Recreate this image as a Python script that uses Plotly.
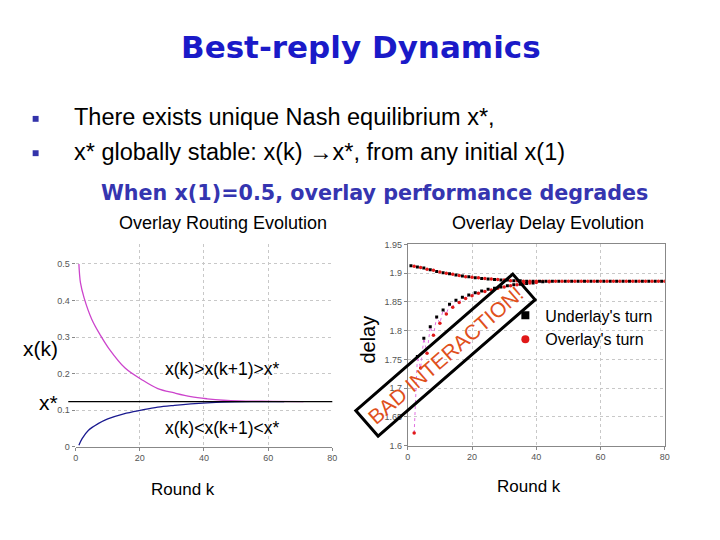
import plotly.graph_objects as go

# ---------------- data ----------------
# Left: Overlay routing evolution x(k)
k_high = [1, 1.5, 2.6, 5, 7.7, 10.3, 15.4, 20.5, 25.6, 30.8, 35.9, 41, 46, 51, 61.5, 71]
x_high = [0.5, 0.448, 0.408, 0.349, 0.305, 0.269, 0.215, 0.184, 0.159, 0.147, 0.137, 0.131, 0.127, 0.125, 0.124, 0.123]
k_low = [1, 2, 4, 7, 10, 15, 20.5, 25.6, 30.8, 35.9, 41, 46, 55, 65]
x_low = [0.004, 0.022, 0.045, 0.063, 0.076, 0.090, 0.100, 0.108, 0.113, 0.117, 0.120, 0.122, 0.123, 0.123]
x_star = 0.123

# Right: Overlay delay evolution (upper branch)
up_under_k = [1, 3, 5, 7, 9, 11, 13, 15, 17, 19, 21, 23, 25, 27, 29, 31, 33, 35, 37, 39,
              41, 43, 45, 47, 49, 51, 53, 55, 57, 59, 61, 63, 65, 67, 69, 71, 73, 75, 77, 79]
up_under = [1.913, 1.911, 1.909, 1.906, 1.903, 1.901, 1.899, 1.897, 1.895, 1.894, 1.892, 1.891,
            1.890, 1.889, 1.888, 1.888, 1.887, 1.887, 1.886, 1.886, 1.886, 1.886, 1.886, 1.886,
            1.886, 1.886, 1.886, 1.886, 1.886, 1.886, 1.886, 1.886, 1.886, 1.886, 1.886, 1.886,
            1.886, 1.886, 1.886, 1.886]
up_over_k = [2, 4, 6, 8, 10, 12, 14, 16, 18, 20, 22, 24, 26, 28, 30, 32, 34, 36, 38, 40,
             42, 44, 46, 48, 50, 52, 54, 56, 58, 60, 62, 64, 66, 68, 70, 72, 74, 76, 78, 80]
up_over = [1.912, 1.910, 1.907, 1.905, 1.902, 1.900, 1.898, 1.896, 1.894, 1.893, 1.892, 1.891,
           1.890, 1.889, 1.888, 1.887, 1.887, 1.886, 1.886, 1.886, 1.886, 1.886, 1.886, 1.886,
           1.886, 1.886, 1.886, 1.886, 1.886, 1.886, 1.886, 1.886, 1.886, 1.886, 1.886, 1.886,
           1.886, 1.886, 1.886, 1.886]
# lower branch (bad interaction, zig-zag between turns)
low_k = [2, 3, 4, 5, 6, 7, 8, 9, 10, 11, 12, 13, 14, 15, 16, 17, 18, 19, 20, 21, 22, 23, 24,
         25, 26, 27, 28, 29, 30, 31, 32, 33, 34, 35, 36, 37, 38, 39, 40, 42, 44]
low_d = [1.622, 1.755, 1.735, 1.787, 1.761, 1.807, 1.792, 1.824, 1.813, 1.836, 1.829, 1.846,
         1.841, 1.853, 1.849, 1.858, 1.856, 1.862, 1.861, 1.866, 1.865, 1.869, 1.868, 1.872,
         1.871, 1.874, 1.874, 1.876, 1.876, 1.878, 1.878, 1.880, 1.880, 1.881, 1.882, 1.882,
         1.883, 1.883, 1.884, 1.885, 1.885]
low_under_k = low_k[1::2]
low_under = low_d[1::2]
low_over_k = low_k[0::2]
low_over = low_d[0::2]

left_xticks = [0, 20, 40, 60, 80]
left_yticks = [0, 0.1, 0.2, 0.3, 0.4, 0.5]
left_yticktext = ["0", "0.1", "0.2", "0.3", "0.4", "0.5"]
right_yticks = [1.6, 1.65, 1.7, 1.75, 1.8, 1.85, 1.9, 1.95]
right_yticktext = ["1.6", "1.65", "1.7", "1.75", "1.8", "1.85", "1.9", "1.95"]

W, H = 720, 540
def px(x):
    return x / W
def py(y):
    return 1 - y / H

fig = go.Figure()

# left plot traces
fig.add_trace(go.Scatter(x=k_high, y=x_high, mode="lines", line=dict(color="#cc44cc", width=1.3, shape="spline"),
                         xaxis="x", yaxis="y", showlegend=False))
fig.add_trace(go.Scatter(x=k_low, y=x_low, mode="lines", line=dict(color="#1a1a90", width=1.3, shape="spline"),
                         xaxis="x", yaxis="y", showlegend=False))

# right plot traces
fig.add_trace(go.Scatter(x=low_k, y=low_d, mode="lines", line=dict(color="#e070e0", width=1, dash="dot"),
                         xaxis="x2", yaxis="y2", showlegend=False))
fig.add_trace(go.Scatter(x=up_under_k, y=up_under, mode="markers", marker=dict(color="black", symbol="square", size=3),
                         xaxis="x2", yaxis="y2", showlegend=False))
fig.add_trace(go.Scatter(x=up_over_k, y=up_over, mode="markers", marker=dict(color="#e01818", symbol="circle", size=3.5),
                         xaxis="x2", yaxis="y2", showlegend=False))
fig.add_trace(go.Scatter(x=low_under_k, y=low_under, mode="markers", marker=dict(color="black", symbol="square", size=3),
                         xaxis="x2", yaxis="y2", showlegend=False))
fig.add_trace(go.Scatter(x=low_over_k, y=low_over, mode="markers", marker=dict(color="#e01818", symbol="circle", size=3.5),
                         xaxis="x2", yaxis="y2", showlegend=False))
# legend entries
fig.add_trace(go.Scatter(x=[None], y=[None], mode="markers", name="Underlay's turn",
                         marker=dict(color="black", symbol="square", size=8), xaxis="x2", yaxis="y2"))
fig.add_trace(go.Scatter(x=[None], y=[None], mode="markers", name="Overlay's turn",
                         marker=dict(color="#e01818", symbol="circle", size=8), xaxis="x2", yaxis="y2"))

tickfont = dict(family="Liberation Sans, Arial", size=9, color="#555555")
grid = dict(showgrid=True, gridcolor="#c8c8c8", griddash="dot", gridwidth=1, zeroline=False)
tk = dict(ticks="outside", ticklen=3, tickcolor="#888888")

fig.update_layout(
    width=W, height=H,
    margin=dict(l=0, r=0, t=0, b=0),
    paper_bgcolor="white", plot_bgcolor="white",
    xaxis=dict(domain=[px(73.5), px(333)], range=[0, 80], tickvals=left_xticks, tickfont=tickfont,
               showline=True, linecolor="#888888", linewidth=1, anchor="y", **tk, **grid),
    yaxis=dict(domain=[py(450), py(243)], range=[0, 0.556], tickvals=left_yticks, ticktext=left_yticktext,
               tickfont=tickfont, showline=False, anchor="x", **tk, **grid),
    xaxis2=dict(domain=[px(409.3), px(669.3)], range=[0, 80], tickvals=left_xticks, tickfont=tickfont,
                showline=True, mirror=True, linecolor="#888888", linewidth=1, anchor="y2", **tk, **grid),
    yaxis2=dict(domain=[py(449), py(244)], range=[1.6, 1.95], tickvals=right_yticks, ticktext=right_yticktext,
                tickfont=tickfont, showline=True, mirror=True, linecolor="#888888", linewidth=1,
                anchor="x2", **tk, **grid),
    legend=dict(x=px(508), y=py(299), xanchor="left", yanchor="top", bgcolor="rgba(0,0,0,0)",
                font=dict(family="Liberation Sans, Arial", size=16, color="black"), tracegroupgap=0,
                itemwidth=30),
    showlegend=True,
)

# x* line
fig.add_shape(type="line", xref="paper", yref="y", x0=px(66), x1=px(333), y0=x_star, y1=x_star,
              line=dict(color="black", width=1.3))

# bullets
fig.add_shape(type="rect", xref="paper", yref="paper", x0=px(30), x1=px(36), y0=py(119), y1=py(113),
              fillcolor="#3333aa", line_width=0)
fig.add_shape(type="rect", xref="paper", yref="paper", x0=px(30), x1=px(36), y0=py(154), y1=py(148),
              fillcolor="#3333aa", line_width=0)

def ann(text, x, y, size, color="black", family="Liberation Sans, Arial", xanchor="center", angle=0, **kw):
    fig.add_annotation(text=text, x=px(x), y=py(y), xref="paper", yref="paper", showarrow=False,
                       xanchor=xanchor, yanchor="middle", textangle=angle,
                       font=dict(size=size, color=color, family=family), **kw)

ann("<b>Best-reply Dynamics</b>", 362, 43, 31, color="#1a1ac8", family="DejaVu Sans")
ann("There exists unique Nash equilibrium x*,", 70, 114, 23.5, xanchor="left")
ann("x* globally stable: x(k) \u2192x*, from any initial x(1)", 70, 150, 23.5, xanchor="left")
ann("<b>When x(1)=0.5, overlay performance degrades</b>", 376, 192, 20.7, color="#3535b0", family="DejaVu Sans")
ann("Overlay Routing Evolution", 222, 222, 18)
ann("Overlay Delay Evolution", 551, 222, 18)
ann("x(k)", 38, 350, 21)
ann("x*", 46, 405, 21, xanchor="center")
ann("x(k)>x(k+1)>x*", 221, 371, 17.5)
ann("x(k)<x(k+1)<x*", 221, 431, 17.5)
ann("Round k", 182, 494, 17)
ann("Round k", 532, 491, 17)
ann("delay", 369, 341, 20, angle=-90)
ann("BAD INTERACTION!", 447, 357, 21, color="#e0501c", angle=-41,
    bordercolor="black", borderwidth=3, borderpad=4)

fig.write_html("out.html", post_script="document.body.style.margin='0';",
               config={"displayModeBar": False})
